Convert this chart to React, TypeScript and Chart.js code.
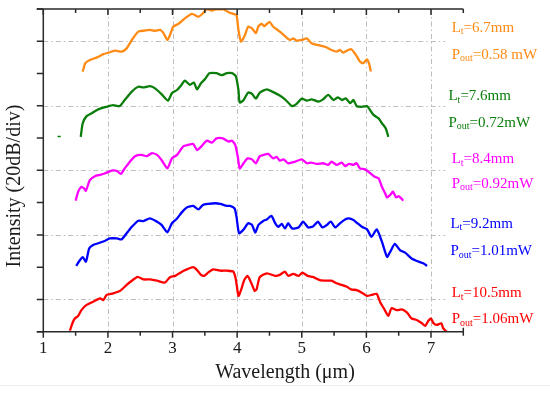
import React, { useEffect, useRef } from "react";
import { Chart, registerables } from "chart.js";

Chart.register(...registerables);

// ---- data (wavelength µm, intensity in 20 dB divisions, offset per trace) ----
const xTicks = [1, 2, 3, 4, 5, 6, 7];
const xGridValues = [2, 3, 4, 5, 6, 7];
const yGridValues = [1, 3, 5, 7, 9];

const orangeSpectrum = [[1.61,8.06],[1.65,8.32],[1.72,8.42],[1.83,8.50],[1.93,8.60],[2.03,8.66],[2.11,8.71],[2.21,8.68],[2.29,8.78],[2.37,9.04],[2.47,9.30],[2.57,9.33],[2.65,9.35],[2.73,9.32],[2.81,9.35],[2.86,9.25],[2.92,9.04],[2.96,9.19],[3.01,9.45],[3.09,9.54],[3.19,9.71],[3.30,9.85],[3.40,9.76],[3.48,9.89],[3.53,10.0],[3.61,9.95],[3.68,10.0],[3.79,9.99],[3.87,9.90],[3.94,9.85],[3.99,9.81],[4.02,9.35],[4.06,8.99],[4.12,9.19],[4.17,9.45],[4.23,9.40],[4.29,9.25],[4.33,9.47],[4.38,9.54],[4.42,9.47],[4.50,9.60],[4.56,9.45],[4.66,9.30],[4.74,9.16],[4.82,9.04],[4.87,9.09],[4.92,9.02],[5.00,9.04],[5.08,9.09],[5.15,8.94],[5.26,8.88],[5.36,8.83],[5.46,8.73],[5.54,8.68],[5.59,8.73],[5.64,8.65],[5.72,8.73],[5.77,8.75],[5.84,8.57],[5.90,8.37],[5.95,8.32],[6.01,8.44],[6.04,8.32],[6.07,8.06]];

const greenSpectrum = [[1.58,6.04],[1.61,6.46],[1.67,6.68],[1.75,6.77],[1.85,6.89],[1.98,6.97],[2.08,7.02],[2.18,6.99],[2.26,7.18],[2.37,7.44],[2.47,7.59],[2.55,7.57],[2.65,7.61],[2.73,7.54],[2.83,7.36],[2.93,7.16],[2.99,7.39],[3.07,7.49],[3.14,7.65],[3.19,7.78],[3.27,7.65],[3.33,7.72],[3.38,7.51],[3.44,7.70],[3.50,7.82],[3.57,8.01],[3.68,8.01],[3.76,7.95],[3.84,8.01],[3.92,8.01],[3.98,7.92],[4.02,7.49],[4.04,7.10],[4.10,7.18],[4.17,7.41],[4.23,7.37],[4.29,7.22],[4.35,7.41],[4.46,7.51],[4.54,7.44],[4.64,7.34],[4.74,7.20],[4.85,6.99],[4.92,7.06],[5.00,7.22],[5.08,7.16],[5.15,7.20],[5.26,7.13],[5.33,7.20],[5.41,7.34],[5.49,7.18],[5.56,7.26],[5.62,7.18],[5.68,7.23],[5.75,7.08],[5.80,7.18],[5.85,6.99],[5.93,6.97],[6.01,6.99],[6.04,6.92],[6.11,6.72],[6.19,6.61],[6.24,6.46],[6.30,6.30],[6.34,6.04]];

const greenDash = [[1.22,6.05],[1.27,6.05]];

const magentaSpectrum = [[1.50,4.06],[1.54,4.34],[1.59,4.49],[1.63,4.44],[1.66,4.37],[1.72,4.70],[1.80,4.82],[1.88,4.86],[1.96,4.91],[2.06,4.99],[2.14,4.98],[2.20,4.89],[2.26,5.06],[2.34,5.27],[2.42,5.44],[2.52,5.48],[2.60,5.44],[2.68,5.53],[2.76,5.48],[2.83,5.32],[2.92,5.06],[2.99,5.37],[3.07,5.48],[3.17,5.75],[3.24,5.79],[3.32,5.82],[3.38,5.63],[3.45,5.75],[3.53,5.92],[3.61,5.86],[3.68,5.99],[3.78,5.99],[3.84,5.92],[3.87,5.89],[3.92,5.92],[3.97,5.79],[4.01,5.42],[4.04,5.06],[4.10,5.22],[4.16,5.37],[4.23,5.34],[4.29,5.22],[4.35,5.44],[4.41,5.48],[4.48,5.51],[4.56,5.37],[4.61,5.42],[4.66,5.30],[4.72,5.34],[4.79,5.22],[4.90,5.27],[5.00,5.34],[5.08,5.22],[5.15,5.24],[5.23,5.20],[5.33,5.22],[5.41,5.17],[5.46,5.27],[5.54,5.17],[5.62,5.24],[5.67,5.13],[5.73,5.20],[5.80,5.17],[5.85,5.22],[5.90,5.06],[5.98,5.03],[6.06,4.91],[6.13,4.80],[6.19,4.75],[6.24,4.49],[6.29,4.29],[6.32,4.16],[6.37,4.24],[6.41,4.34],[6.46,4.16],[6.50,4.20],[6.54,4.13],[6.57,4.06]];

const blueSpectrum = [[1.51,2.04],[1.56,2.20],[1.61,2.31],[1.66,2.17],[1.71,2.58],[1.77,2.69],[1.85,2.74],[1.96,2.82],[2.03,2.89],[2.14,2.89],[2.21,2.86],[2.29,3.05],[2.37,3.25],[2.47,3.44],[2.55,3.43],[2.65,3.51],[2.76,3.41],[2.83,3.31],[2.92,3.08],[2.99,3.36],[3.07,3.51],[3.14,3.69],[3.22,3.85],[3.32,3.90],[3.40,3.79],[3.47,3.93],[3.55,3.96],[3.66,3.98],[3.74,3.96],[3.84,3.90],[3.89,3.90],[3.96,3.82],[3.99,3.56],[4.03,3.05],[4.10,3.17],[4.17,3.36],[4.23,3.31],[4.28,3.07],[4.33,3.31],[4.41,3.44],[4.46,3.48],[4.53,3.59],[4.59,3.36],[4.64,3.25],[4.69,3.34],[4.74,3.20],[4.79,3.36],[4.85,3.20],[4.95,3.23],[5.02,3.41],[5.10,3.23],[5.18,3.27],[5.25,3.41],[5.32,3.23],[5.39,3.31],[5.45,3.41],[5.52,3.23],[5.59,3.36],[5.67,3.48],[5.73,3.51],[5.80,3.46],[5.85,3.38],[5.93,3.25],[6.01,3.17],[6.08,2.94],[6.16,3.17],[6.24,2.79],[6.32,2.32],[6.37,2.48],[6.44,2.72],[6.52,2.53],[6.60,2.45],[6.70,2.27],[6.81,2.17],[6.88,2.12],[6.94,2.04]];

const redSpectrum = [[1.41,0.03],[1.46,0.31],[1.49,0.41],[1.54,0.49],[1.59,0.67],[1.67,0.83],[1.77,0.93],[1.88,1.03],[1.93,0.98],[1.98,1.14],[2.08,1.19],[2.19,1.27],[2.29,1.45],[2.37,1.58],[2.46,1.70],[2.55,1.62],[2.65,1.62],[2.76,1.58],[2.88,1.52],[2.96,1.69],[3.04,1.73],[3.12,1.83],[3.22,1.93],[3.32,2.00],[3.38,1.91],[3.44,1.76],[3.49,1.73],[3.55,1.83],[3.63,1.93],[3.74,1.89],[3.84,1.89],[3.94,1.86],[3.98,1.62],[4.02,1.11],[4.06,1.29],[4.11,1.60],[4.16,1.73],[4.21,1.55],[4.27,1.27],[4.30,1.31],[4.35,1.69],[4.46,1.81],[4.59,1.73],[4.66,1.76],[4.74,1.86],[4.79,1.73],[4.87,1.79],[4.95,1.73],[5.01,1.83],[5.09,1.73],[5.18,1.69],[5.28,1.60],[5.39,1.58],[5.46,1.58],[5.54,1.50],[5.62,1.45],[5.70,1.39],[5.76,1.31],[5.85,1.29],[5.93,1.21],[6.01,1.11],[6.08,1.14],[6.16,1.17],[6.21,0.93],[6.28,0.69],[6.34,0.49],[6.39,0.73],[6.47,0.67],[6.55,0.69],[6.63,0.59],[6.70,0.41],[6.78,0.36],[6.86,0.26],[6.91,0.18],[6.96,0.34],[7.00,0.41],[7.04,0.26],[7.09,0.21],[7.16,0.26],[7.19,0.10],[7.24,0.0]];

const lengthLabels = ["6.7mm", "7.6mm", "8.4mm", "9.2mm", "10.5mm"];
const powerLabels = ["0.58 mW", "0.72mW", "0.92mW", "1.01mW", "1.06mW"];
const traceColors = ["#ff8a14", "#0a7d0a", "#ff00ff", "#0000ff", "#ff0000"];

// ---- layout / style (not data) ----
const SERIF = '"Liberation Serif", "Times New Roman", "DejaVu Serif", serif';
const labelAnchors = [
  { x: 7.32, yL: 9.45, yP: 8.61 },
  { x: 7.27, yL: 7.33, yP: 6.50 },
  { x: 7.32, yL: 5.38, yP: 4.61 },
  { x: 7.30, yL: 3.37, yP: 2.53 },
  { x: 7.32, yL: 1.23, yP: 0.42 },
];

function toPoints(arr: number[][]) {
  return arr.map(([x, y]) => ({ x, y }));
}

function drawSubText(ctx: CanvasRenderingContext2D, x: number, y: number, main: string, sub: string, rest: string, color: string) {
  ctx.fillStyle = color;
  ctx.textBaseline = "alphabetic";
  ctx.textAlign = "left";
  const base = y + 5;
  ctx.font = `15px ${SERIF}`;
  ctx.fillText(main, x, base);
  let cx = x + ctx.measureText(main).width;
  ctx.font = `10px ${SERIF}`;
  ctx.fillText(sub, cx, base + 2.5);
  cx += ctx.measureText(sub).width;
  ctx.font = `15px ${SERIF}`;
  ctx.fillText(rest, cx, base);
}

const framePlugin = {
  id: "framePlugin",
  beforeDatasetsDraw(chart: any) {
    const { ctx, chartArea, scales } = chart;
    const xs = scales.x;
    const ys = scales.y;
    ctx.save();
    ctx.strokeStyle = "#bdbdbd";
    ctx.lineWidth = 1;
    ctx.setLineDash([5, 3, 1.5, 3]);
    for (const v of xGridValues) {
      const px = Math.round(xs.getPixelForValue(v)) + 0.5;
      ctx.beginPath();
      ctx.moveTo(px, chartArea.top);
      ctx.lineTo(px, chartArea.bottom);
      ctx.stroke();
    }
    const gridEnd = xs.getPixelForValue(7.22);
    for (const v of yGridValues) {
      const py = Math.round(ys.getPixelForValue(v)) + 0.5;
      ctx.beginPath();
      ctx.moveTo(chartArea.left, py);
      ctx.lineTo(gridEnd, py);
      ctx.stroke();
    }
    ctx.restore();
  },
  afterDatasetsDraw(chart: any) {
    const { ctx, chartArea, scales } = chart;
    const xs = scales.x;
    const ys = scales.y;
    const { left, right, top, bottom } = chartArea;
    ctx.save();
    ctx.setLineDash([]);
    ctx.strokeStyle = "#2a2a2a";
    ctx.lineWidth = 1.5;
    // axes frame
    ctx.beginPath();
    ctx.moveTo(left, top);
    ctx.lineTo(left, bottom);
    ctx.moveTo(left - 6.5, bottom);
    ctx.lineTo(right, bottom);
    ctx.moveTo(left - 6.5, top);
    ctx.lineTo(right, top);
    ctx.stroke();
    // y ticks (outward)
    ctx.beginPath();
    for (let v = 0; v <= 10; v++) {
      const py = ys.getPixelForValue(v);
      ctx.moveTo(left - 6.5, py);
      ctx.lineTo(left, py);
    }
    // x ticks bottom (outward) and top (inward)
    for (let v = 1; v <= 7.5001; v += 0.5) {
      const px = xs.getPixelForValue(v);
      const major = Math.abs(v - Math.round(v)) < 1e-6;
      const len = major ? 6 : 4;
      ctx.moveTo(px, bottom);
      ctx.lineTo(px, bottom + len);
      ctx.moveTo(px, top);
      ctx.lineTo(px, top + len);
    }
    const pxEnd = xs.getPixelForValue(7.5);
    ctx.moveTo(pxEnd, bottom - 4);
    ctx.lineTo(pxEnd, bottom);
    ctx.stroke();

    // axis titles
    ctx.fillStyle = "#1a1a1a";
    ctx.font = `20px ${SERIF}`;
    ctx.textAlign = "center";
    ctx.textBaseline = "middle";
    ctx.fillText("Wavelength (\u03bcm)", 285, 373);
    ctx.save();
    ctx.translate(15, 186);
    ctx.rotate(-Math.PI / 2);
    ctx.fillText("Intensity (20dB/div)", 0, 0);
    ctx.restore();

    // annotations
    for (let i = 0; i < lengthLabels.length; i++) {
      const a = labelAnchors[i];
      const px = xs.getPixelForValue(a.x);
      drawSubText(ctx, px, ys.getPixelForValue(a.yL), "L", "t", "=" + lengthLabels[i], traceColors[i]);
      drawSubText(ctx, px, ys.getPixelForValue(a.yP), "P", "out", "=" + powerLabels[i], traceColors[i]);
    }

    // faint page line below figure
    ctx.strokeStyle = "#ececec";
    ctx.lineWidth = 1;
    ctx.beginPath();
    ctx.moveTo(0, 385.5);
    ctx.lineTo(550, 385.5);
    ctx.stroke();
    ctx.restore();
  },
};

export default function App() {
  const canvasRef = useRef<HTMLCanvasElement | null>(null);

  useEffect(() => {
    document.body.style.margin = "0";
    const canvas = canvasRef.current;
    if (!canvas) return;
    const series = [orangeSpectrum, greenSpectrum, magentaSpectrum, blueSpectrum, redSpectrum];
    const datasets: any[] = series.map((s, i) => ({
      data: toPoints(s),
      borderColor: traceColors[i],
      backgroundColor: traceColors[i],
      borderWidth: 2.3,
      pointRadius: 0,
      showLine: true,
      tension: 0.2,
      fill: false,
    }));
    datasets.push({
      data: toPoints(greenDash),
      borderColor: traceColors[1],
      borderWidth: 1.5,
      pointRadius: 0,
      showLine: true,
      tension: 0,
      fill: false,
    });

    const chart = new Chart(canvas, {
      type: "scatter",
      data: { datasets },
      options: {
        animation: false,
        responsive: false,
        maintainAspectRatio: false,
        layout: { padding: { top: 9, right: 86.7, left: 0, bottom: 0 } },
        plugins: { legend: { display: false }, tooltip: { enabled: false } },
        scales: {
          x: {
            type: "linear",
            min: 1,
            max: 7.5,
            grid: { display: false, drawTicks: false },
            border: { display: false },
            ticks: {
              stepSize: 1,
              includeBounds: false,
              padding: 7,
              color: "#1a1a1a",
              font: { size: 17, family: SERIF },
              callback: (v: any) => (xTicks.includes(Number(v)) ? String(v) : ""),
              maxRotation: 0,
            },
            afterFit: (scale: any) => {
              scale.height = 63.3;
            },
          },
          y: {
            type: "linear",
            min: 0,
            max: 10,
            grid: { display: false, drawTicks: false },
            border: { display: false },
            ticks: { display: false, stepSize: 1 },
            afterFit: (scale: any) => {
              scale.width = 43.3;
            },
          },
        },
      } as any,
      plugins: [framePlugin],
    });
    return () => chart.destroy();
  }, []);

  return (
    <div style={{ width: 550, height: 395, background: "#fff" }}>
      <canvas ref={canvasRef} width={550} height={395} style={{ display: "block" }} />
    </div>
  );
}
